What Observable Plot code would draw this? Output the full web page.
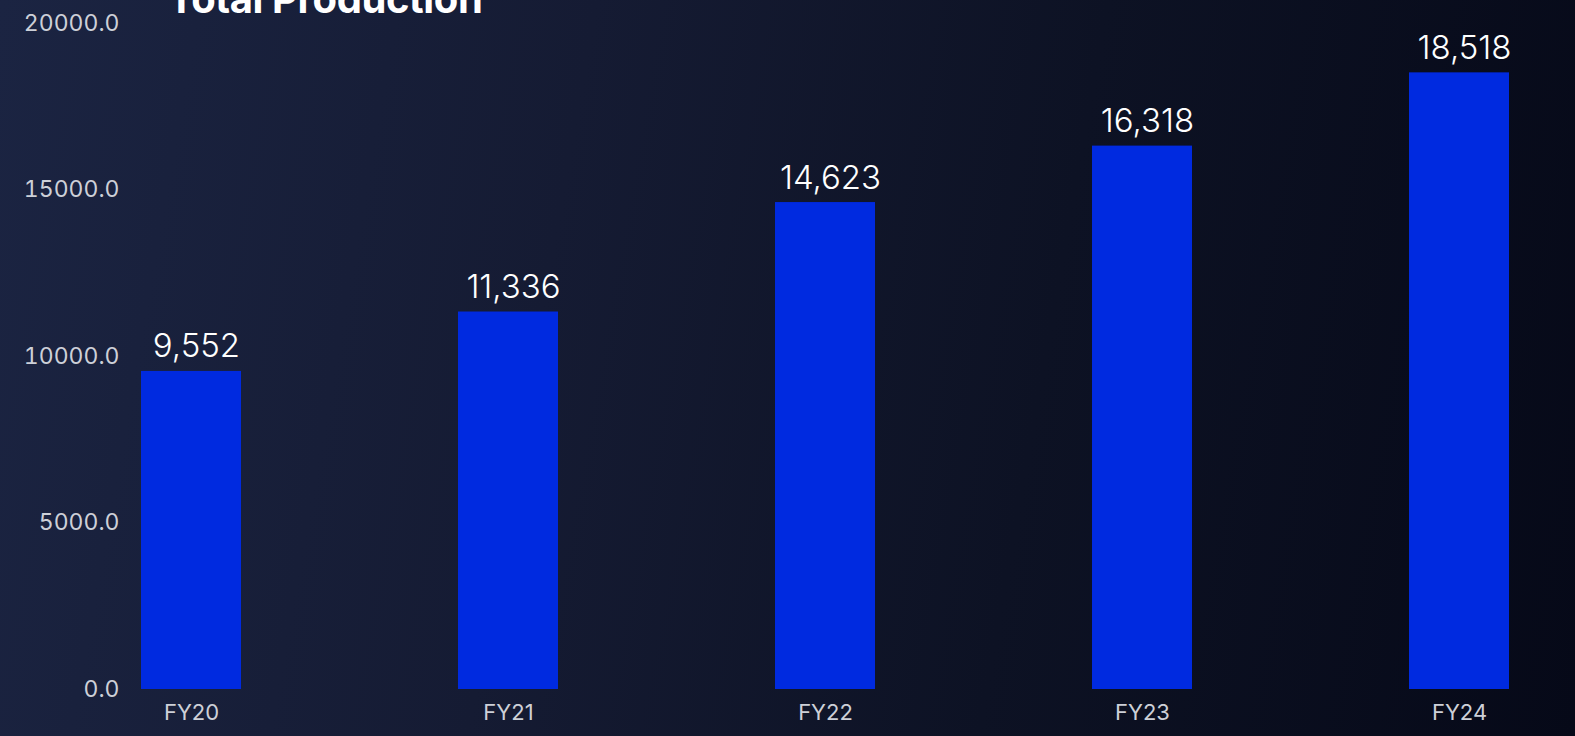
<!DOCTYPE html>
<html>
<head>
<meta charset="utf-8">
<script src="https://cdn.jsdelivr.net/npm/d3@7"></script>
<script src="https://cdn.jsdelivr.net/npm/@observablehq/plot@0.6"></script>
<style>
  html, body { margin: 0; padding: 0; }
  body {
    width: 1575px; height: 736px; overflow: hidden; position: relative;
    background: linear-gradient(100deg, #1b2442 0%, #151b33 35%, #0d1224 65%, #060918 100%);
    font-family: Inter, "Noto Sans", sans-serif;
  }
  #title {
    position: absolute; left: 168px; top: -21px;
    font-size: 40px; font-weight: 700; color: #ffffff; line-height: 1;
    letter-spacing: -0.4px; white-space: nowrap;
  }
  #chart { position: absolute; left: 0; top: 0; }
</style>
</head>
<body>
<div id="title">Total Production</div>
<div id="chart"></div>
<script>
const categories = ["FY20", "FY21", "FY22", "FY23", "FY24"];
const values = [9552, 11336, 14623, 16318, 18518];
const yTicks = [0, 5000, 10000, 15000, 20000];

const data = categories.map((c, i) => ({category: c, value: values[i]}));

const chart = Plot.plot({
  width: 1575,
  height: 736,
  marginTop: 23,
  marginBottom: 47,
  marginLeft: 108,
  marginRight: 33,
  style: {background: "transparent", fontFamily: "Inter, 'Noto Sans', sans-serif", overflow: "visible"},
  x: {domain: categories, paddingInner: 0.6836, paddingOuter: 0.1, label: null},
  y: {domain: [0, 20000], label: null},
  marks: [
    Plot.barY(data, {x: "category", y: "value", fill: "#002ae0"}),
    Plot.text(data, {
      x: "category", y: "value",
      text: d => d3.format(",")(d.value),
      lineAnchor: "bottom", dy: -14, dx: 5,
      fill: "#ffffff", fontSize: 33, fontWeight: 300
    }),
    Plot.axisY({
      ticks: yTicks, tickFormat: d3.format(".1f"),
      tickSize: 0, tickPadding: 0, dx: 11,
      fontSize: 23, fill: "#cdd0d8", label: null
    }),
    Plot.axisX({
      tickSize: 0, tickPadding: 15,
      fontSize: 22, fill: "#cdd0d8", label: null
    })
  ]
});
document.getElementById("chart").appendChild(chart);
</script>
</body>
</html>
